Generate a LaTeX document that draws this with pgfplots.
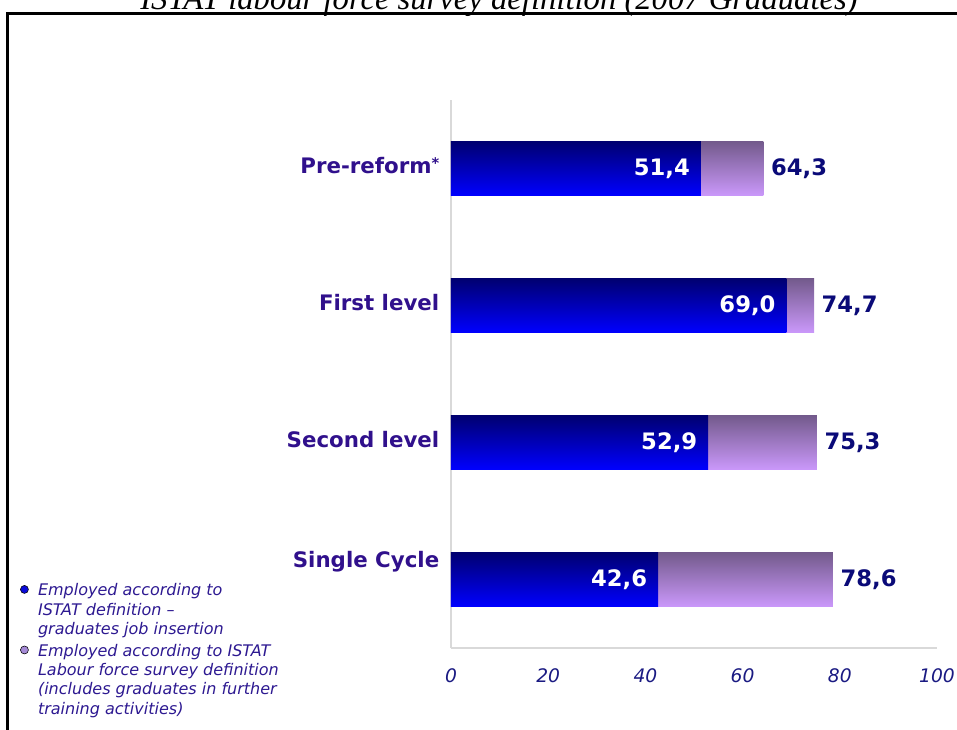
\documentclass[border=0pt]{standalone}
\usepackage{pgfplots}
\pgfplotsset{compat=1.18}
\usepackage{fontspec}
\setmainfont{DejaVu Sans}
\newfontfamily\titlefont{Liberation Serif}
\definecolor{blueTop}{HTML}{000070}
\definecolor{blueMid}{HTML}{0000C8}
\definecolor{blueBot}{HTML}{0000FF}
\definecolor{purTop}{HTML}{735A8C}
\definecolor{purMid}{HTML}{A884CE}
\definecolor{purBot}{HTML}{CA98FA}
\definecolor{catcol}{HTML}{30108C}
\definecolor{valcol}{HTML}{0A0A78}
\definecolor{tickcol}{HTML}{1A1A82}
\definecolor{legtext}{HTML}{2D1991}
\definecolor{legblue}{HTML}{0A0AD8}
\definecolor{legpur}{HTML}{A58AD6}
\definecolor{axgray}{HTML}{D9D9D9}
\pgfplotsset{
  valfmt/.style={nodes near coords={\pgfmathprintnumber[fixed,fixed zerofill,precision=1,use comma]{\pgfplotspointmeta}}},
  purbar/.style={xbar, bar shift=0pt, draw=none, top color=purTop, middle color=purMid, bottom color=purBot, forget plot, valfmt,
    nodes near coords style={anchor=west, inner sep=0pt, xshift=5.5pt, text=valcol, font=\fontsize{17}{20}\selectfont\bfseries}},
  bluebar/.style={xbar, bar shift=0pt, draw=none, top color=blueTop, middle color=blueMid, bottom color=blueBot, forget plot, valfmt,
    nodes near coords style={anchor=east, inner sep=0pt, xshift=-8pt, text=white, font=\fontsize{17}{20}\selectfont\bfseries}},
}
\begin{document}
\begin{tikzpicture}
\begin{axis}[
  scale only axis,
  width=364.5pt, height=411pt,
  xmin=0, xmax=100, ymin=-0.5, ymax=3.5,
  enlargelimits=false,
  clip=false,
  axis x line*=bottom, axis y line*=left,
  axis line style={axgray, line width=1.2pt},
  tick style={draw=none},
  xtick={0,20,40,60,80,100},
  ytick={0,1,2,3},
  yticklabels={{\smash{\raisebox{7pt}{Single Cycle}}},{Second level},{First level},{Pre-reform\raisebox{4pt}{\fontsize{11}{11}\selectfont *}}},
  /pgf/number format/assume math mode=true,
  xticklabel style={font=\fontsize{14}{16}\selectfont\itshape, text=tickcol, yshift=-12pt},
  yticklabel style={font=\fontsize{16}{19}\selectfont\bfseries, text=catcol, xshift=-5.3pt, yshift=2pt},
  bar width=40.5pt,
  legend cell align=left,
  legend style={draw=none, fill=none, at={(-0.887,0.123)}, anchor=north west,
    font=\fontsize{12}{14.5}\selectfont\itshape, text=legtext, row sep=2.75pt,
    inner sep=0pt, nodes={inner sep=1pt}},
]
\addplot[purbar] coordinates {(78.6,0)};
\addplot[purbar] coordinates {(75.3,1)};
\addplot[purbar] coordinates {(74.7,2)};
\addplot[purbar] coordinates {(64.3,3)};
\addplot[bluebar] coordinates {(42.6,0)};
\addplot[bluebar] coordinates {(52.9,1)};
\addplot[bluebar] coordinates {(69.0,2)};
\addplot[bluebar] coordinates {(51.4,3)};
\addlegendimage{legend image code/.code={\path[fill=legblue] (3pt,14.9pt) circle (3pt); \path (0pt,0pt) (12pt,0pt);}}
\addlegendentry{\begin{tabular}[b]{@{}l@{}}Employed according to\\ISTAT definition –\\graduates job insertion\end{tabular}}
\addlegendimage{legend image code/.code={\path[fill=legpur] (3pt,22.15pt) circle (3pt); \path (0pt,0pt) (12pt,0pt);}}
\addlegendentry{\begin{tabular}[b]{@{}l@{}}Employed according to ISTAT\\Labour force survey definition\\(includes graduates in further\\training activities)\end{tabular}}
\end{axis}
\node[anchor=base, font=\titlefont\itshape\fontsize{24.5}{28}\selectfont] at (36pt,478.5pt) {ISTAT labour force survey definition (2007 Graduates)};
\draw[line width=2.25pt] (-332.25pt,-80pt) -- (-332.25pt,475.9pt) -- (400pt,475.9pt);
\pgfresetboundingbox
\path[use as bounding box] (-338.25pt,-60.75pt) rectangle (379.5pt,486pt);
\end{tikzpicture}
\end{document}
